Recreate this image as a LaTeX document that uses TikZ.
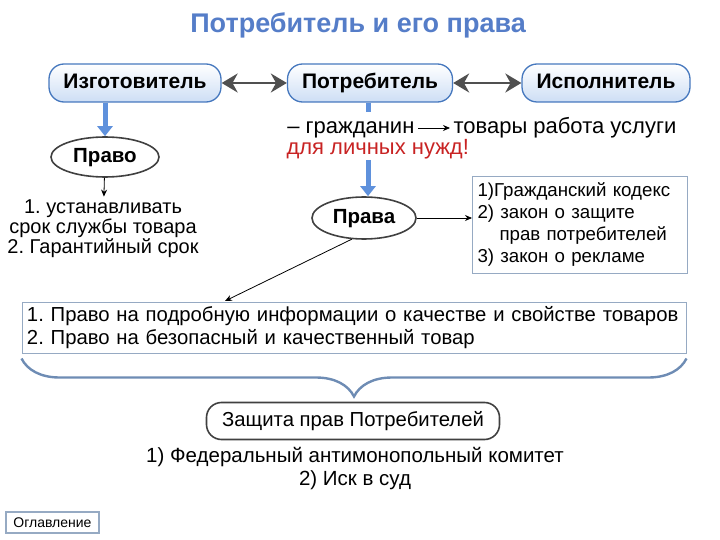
\documentclass[tikz,border=0pt]{standalone}
\usepackage{fontspec}
\setmainfont{Liberation Sans}
\usepackage{tikz}
\usetikzlibrary{positioning, arrows.meta, shapes, decorations.pathreplacing}
\usepackage{xcolor}
\definecolor{pillblue}{RGB}{70, 120, 190}
\definecolor{pillfill}{RGB}{205, 222, 245}
\definecolor{arrowblue}{RGB}{95, 145, 220}
\definecolor{boxgray}{RGB}{150, 170, 195}
\definecolor{bracegray}{RGB}{110, 140, 180}
\definecolor{darkarrow}{RGB}{80, 80, 80}
\definecolor{titleblue}{RGB}{85, 125, 200}
\definecolor{needred}{RGB}{200, 35, 35}
\frenchspacing

\begin{document}
\begin{tikzpicture}[x=1pt, y=-1pt,
    pill/.style={rectangle, rounded corners=15pt, draw=pillblue, line width=1.3pt, top color=white, bottom color=pillfill, minimum width=172pt, minimum height=38pt, text height=14pt, text depth=3pt, font=\bfseries\fontsize{21}{23}\selectfont},
    oval/.style={ellipse, draw=black!75, line width=1.6pt, fill=white, minimum width=108pt, minimum height=40pt, text height=14pt, text depth=3pt, font=\bfseries\fontsize{20.5}{22}\selectfont},
    listbox/.style={rectangle, draw=boxgray, line width=1pt, fill=white, align=left, inner xsep=5pt, inner ysep=3pt},
    plain/.style={align=center, font=\fontsize{20}{18.5}\selectfont},
    bluearrow/.style={-{Triangle[width=15pt, length=10pt]}, line width=5pt, arrowblue},
    twoway/.style={{Stealth[length=16pt, width=19pt]}-{Stealth[length=16pt, width=19pt]}, line width=2.8pt, darkarrow},
    pointer/.style={-{Stealth[length=7pt, width=6pt]}, line width=0.8pt}
]
    \useasboundingbox (0,0) rectangle (720,540);

    % title
    \node[font=\bfseries\fontsize{27}{30}\selectfont, text=titleblue] (title) at (358,25) {Потребитель и его права};

    % top row
    \node[pill] (izg) at (135,83) {Изготовитель};
    \node[pill, minimum width=165pt] (potr) at (370,83) {Потребитель};
    \node[pill, minimum width=168pt] (isp) at (606,83) {Исполнитель};

    \draw[twoway] (izg) -- (potr);
    \draw[twoway] (potr) -- (isp);

    % left branch
    \node[oval] (pravo) at (105,157) {Право};
    \node[plain] (rules) at (103,229) {1. устанавливать\\срок службы товара\\2. Гарантийный срок};

    \draw[bluearrow] (pravo.north |- izg.south) -- (pravo.north);
    \draw[pointer] (pravo) -- (rules);

    % middle branch
    \coordinate (stubend) at (368,112);
    \draw[line width=5pt, arrowblue] (stubend |- potr.south) -- (stubend);

    \node[plain, anchor=base east, font=\fontsize{22}{24}\selectfont] (citizen) at (418,134) {– гражданин};
    \node[plain, anchor=base west, font=\fontsize{22}{24}\selectfont] (goods) at (450,134) {товары работа услуги};
    \node[plain, anchor=base west, text=needred, font=\fontsize{22}{24}\selectfont] (needs) at (283,155) {для личных нужд!};
    \draw[pointer] ([yshift=6pt]citizen.base east) -- ([yshift=6pt]goods.base west);

    \coordinate (needend) at (368,160);
    \node[oval, minimum width=104pt, minimum height=42pt] (prava) at (364,218) {Права};
    \draw[bluearrow] (needend) -- (needend |- prava.north);

    \node[listbox, text width=205pt, minimum height=96pt, font=\fontsize{18.7}{22}\selectfont] (laws) at (580,225) {1)Гражданский кодекс\\2) закон о защите\\\hspace*{22pt}прав потребителей\\3) закон о рекламе};
    \draw[pointer] (prava.east) -- (prava.east -| laws.west);

    \node[listbox, text width=654pt, minimum height=51pt, font=\fontsize{20.3}{23}\selectfont] (rights) at (354,327.5) {1. Право на подробную информации о качестве и свойстве товаров\\2. Право на безопасный и качественный товар};
    \coordinate (hit) at (225,301);
    \draw[pointer] (prava.240) -- (hit);

    % bottom
    \draw[decorate, decoration={brace, amplitude=38pt, raise=5pt}, line width=2.4pt, bracegray] (rights.south east) -- (rights.south west);

    \node[rectangle, rounded corners=15pt, draw=black!75, line width=1.6pt, fill=white, minimum width=293pt, minimum height=37pt, font=\fontsize{20.3}{22}\selectfont] (defense) at (353,421) {Защита прав Потребителей};
    \node[plain, font=\fontsize{20.5}{23}\selectfont] (bodies) at (355,469) {1) Федеральный антимонопольный комитет\\2) Иск в суд};

    \node[rectangle, draw=boxgray, line width=1.2pt, fill=white, minimum width=93pt, minimum height=21pt, font=\fontsize{14}{15}\selectfont] (contents) at (52.5,522.5) {Оглавление};
\end{tikzpicture}
\end{document}
